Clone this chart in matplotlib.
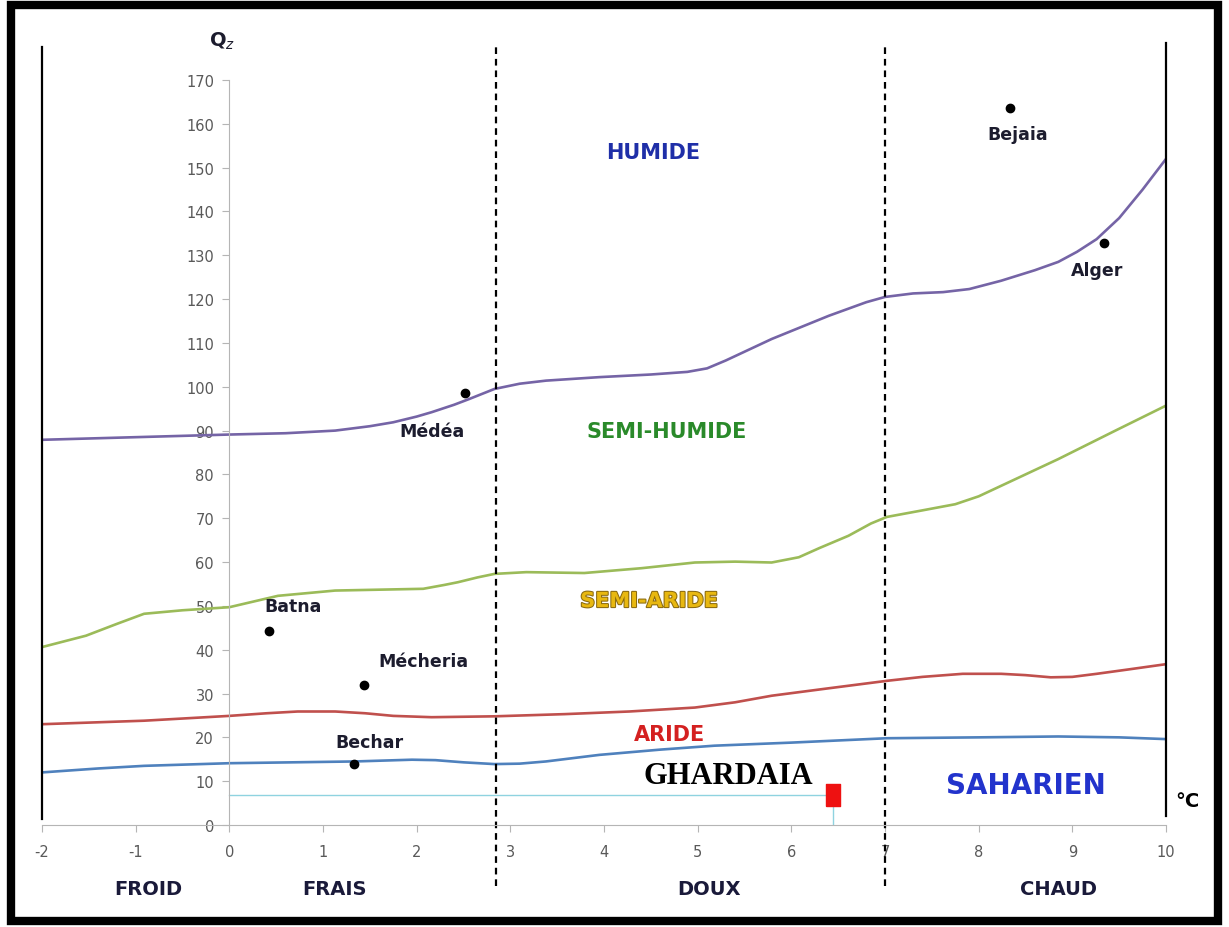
import numpy as np
import matplotlib.pyplot as plt
from matplotlib.patches import Rectangle
import matplotlib.patheffects as pe

plt.rcParams["axes.unicode_minus"] = False

# Emberger climagram: Q2 vs m (°C)
x_hum = [-2, -1, 0, 0.6, 1.13, 1.5, 1.75, 2.0, 2.16, 2.4, 2.56, 2.83, 3.1, 3.38, 3.95, 4.5, 4.89, 5.1, 5.3, 5.79, 6.4, 6.8, 7.0, 7.3, 7.62, 7.9, 8.24, 8.6, 8.85, 9.05, 9.26, 9.5, 9.75, 10]
y_hum = [87.9, 88.5, 89.1, 89.4, 90.0, 91.0, 91.9, 93.2, 94.2, 95.9, 97.2, 99.5, 100.7, 101.4, 102.2, 102.8, 103.4, 104.2, 106.0, 110.9, 116.2, 119.3, 120.5, 121.3, 121.6, 122.3, 124.2, 126.6, 128.5, 130.8, 133.7, 138.5, 145.0, 152]

x_semi = [-2, -1.53, -1.2, -0.91, -0.5, 0, 0.3, 0.52, 1.13, 2.07, 2.3, 2.44, 2.65, 2.83, 3.17, 3.79, 4.4, 4.97, 5.4, 5.79, 6.08, 6.3, 6.61, 6.85, 7.02, 7.4, 7.75, 8.0, 8.24, 8.85, 9.46, 10]
y_semi = [40.6, 43.2, 45.9, 48.2, 49.0, 49.7, 51.2, 52.3, 53.5, 53.9, 54.8, 55.4, 56.5, 57.3, 57.7, 57.5, 58.6, 59.9, 60.1, 59.9, 61.1, 63.2, 66.0, 68.8, 70.3, 71.8, 73.2, 75.0, 77.4, 83.5, 90.0, 95.7]

x_arid = [-2, -0.91, 0, 0.4, 0.73, 1.13, 1.45, 1.75, 2.16, 2.83, 3.58, 4.27, 4.97, 5.4, 5.79, 6.4, 7.02, 7.4, 7.83, 8.24, 8.5, 8.77, 9.0, 9.26, 9.6, 10]
y_arid = [23.0, 23.8, 24.9, 25.5, 25.9, 25.9, 25.5, 24.9, 24.6, 24.8, 25.3, 25.9, 26.8, 28.0, 29.5, 31.2, 32.9, 33.8, 34.5, 34.5, 34.2, 33.7, 33.8, 34.5, 35.5, 36.7]

x_sahara = [-2, -1.4, -0.91, 0, 1.34, 1.95, 2.2, 2.5, 2.83, 3.1, 3.38, 3.95, 4.6, 5.18, 6.0, 7.02, 8.0, 8.85, 9.5, 10]
y_sahara = [12.0, 12.9, 13.5, 14.1, 14.5, 14.9, 14.8, 14.3, 13.9, 14.0, 14.5, 16.0, 17.2, 18.1, 18.8, 19.8, 20.0, 20.2, 20.0, 19.6]

stations = ["Bejaia", "Alger", "Médéa", "Batna", "Mécheria", "Bechar"]
st_x = [8.33, 9.34, 2.52, 0.42, 1.44, 1.33]
st_y = [163.6, 132.8, 98.6, 44.3, 32.0, 13.9]
lab_x = [8.42, 9.26, 2.16, 0.68, 2.07, 1.5]
lab_y = [157.7, 126.7, 90.0, 50.0, 37.5, 18.9]

ghardaia_x, ghardaia_y = 6.44, 6.85

zones = ["FROID", "FRAIS", "DOUX", "CHAUD"]
zone_x = [-0.87, 1.12, 5.12, 8.85]
limits_x = [2.85, 7.0]

fig = plt.figure(figsize=(12.29, 9.28), dpi=100)
ax = fig.add_axes([42 / 1229, 102 / 928, 1124 / 1229, 788.8 / 928])
ax.set_xlim(-2, 10)
ax.set_ylim(0, 180)

grey = "#b5b5b5"
for s in ["top", "right"]:
    ax.spines[s].set_visible(False)
ax.spines["left"].set_position(("data", 0))
ax.spines["left"].set_bounds(0, 170)
ax.spines["bottom"].set_bounds(-2, 10)
ax.spines["left"].set_color(grey)
ax.spines["bottom"].set_color(grey)
ax.set_yticks(np.arange(0, 171, 10))
ax.set_xticks(np.arange(-2, 11, 1))
ax.tick_params(axis="both", colors=grey, length=5, labelcolor="#595959", labelsize=10.5)
ax.tick_params(axis="y", pad=6)
ax.tick_params(axis="x", pad=9)

# bioclimate boundaries
ax.plot(x_hum, y_hum, color="#7564a6", lw=1.9)
ax.plot(x_semi, y_semi, color="#9bbb59", lw=1.9)
ax.plot(x_arid, y_arid, color="#c0504d", lw=1.9)
ax.plot(x_sahara, y_sahara, color="#4f81bd", lw=1.9)

# frame lines at -2 and 10
ax.plot([-2, -2], [1.4, 177.6], color="black", lw=1.6, clip_on=False)
ax.plot([10, 10], [2, 178.5], color="black", lw=1.6, clip_on=False)
for lx in limits_x:
    ax.plot([lx, lx], [-14.0, 178], color="black", lw=1.6, ls=(0, (3, 2.2)), clip_on=False)

# stations
ax.plot(st_x, st_y, "o", color="black", ms=6, ls="none")
for name, tx, ty in zip(stations, lab_x, lab_y):
    ax.text(tx, ty, name, ha="center", va="center", fontsize=12.5, fontweight="bold", color="#1c1c2e")

# Ghardaia
ax.plot([0, ghardaia_x], [ghardaia_y, ghardaia_y], color="#8fd3e0", lw=1)
ax.plot([ghardaia_x, ghardaia_x], [0, ghardaia_y], color="#8fd3e0", lw=1)
rect_marker = [(-0.3, -0.5), (0.3, -0.5), (0.3, 0.5), (-0.3, 0.5), (-0.3, -0.5)]
ax.plot([ghardaia_x], [ghardaia_y], marker=rect_marker, ms=16, color="#ee1111", ls="none")
ax.text(5.33, 11.2, "GHARDAIA", ha="center", va="center", fontsize=22, fontweight="bold",
        family="Liberation Serif", color="black")

# zone labels
ax.text(4.53, 153.6, "HUMIDE", ha="center", va="center", fontsize=15, fontweight="bold", color="#1f2fa8")
ax.text(4.67, 89.9, "SEMI-HUMIDE", ha="center", va="center", fontsize=15, fontweight="bold", color="#2a8a2a")
ax.text(4.48, 51.1, "SEMI-ARIDE", ha="center", va="center", fontsize=15, fontweight="bold", color="#e8b810",
        path_effects=[pe.withStroke(linewidth=1.5, foreground="#8a6a10")])
ax.text(4.70, 20.8, "ARIDE", ha="center", va="center", fontsize=15, fontweight="bold", color="#d42020")
ax.text(8.5, 9.1, "SAHARIEN", ha="center", va="center", fontsize=20, fontweight="bold", color="#2233cc")

ax.text(10.23, 5.5, "°C", ha="center", va="center", fontsize=14, fontweight="bold", color="black", clip_on=False)
ax.text(-0.08, 179, "Q$_z$", ha="center", va="center", fontsize=14, fontweight="bold", color="#1c1c2e", clip_on=False)

for name, zx in zip(zones, zone_x):
    ax.text(zx, -14.6, name, ha="center", va="center", fontsize=14, fontweight="bold", color="#1a1a3a", clip_on=False)

# outer border
fig.add_artist(Rectangle((11 / 1229, 6 / 928), 1207 / 1229, 916 / 928, transform=fig.transFigure,
                         fill=False, edgecolor="black", lw=6))

fig.savefig("out.png", dpi=100)
